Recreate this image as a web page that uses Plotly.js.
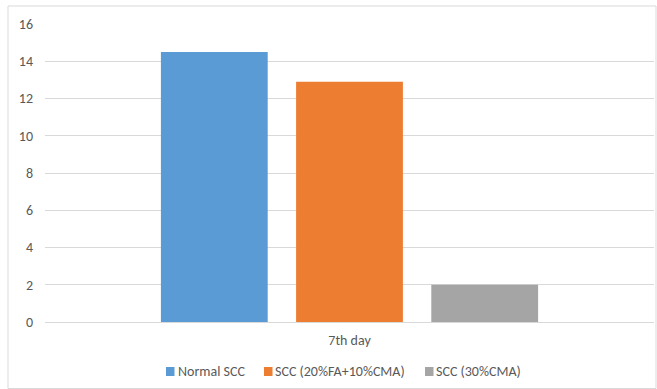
<!DOCTYPE html>
<html>
<head>
<meta charset="utf-8">
<script src="https://cdn.plot.ly/plotly-3.0.1.min.js"></script>
<style>
  html, body { margin: 0; padding: 0; background: #fff; }
  #chart { width: 657px; height: 389px; }
</style>
</head>
<body>
<div id="chart"></div>
<script>
// Flow/strength values on the 7th day for three SCC mixes
const categories = ["7th day"];
const seriesNames = ["Normal SCC", "SCC (20%FA+10%CMA)", "SCC (30%CMA)"];
const normalScc = [14.5];
const faCmaScc = [12.9];
const cmaScc = [2.0];
const yTicks = [0, 2, 4, 6, 8, 10, 12, 14, 16];

const colors = ["#5B9BD5", "#ED7D31", "#A5A5A5"];
const values = [normalScc, faCmaScc, cmaScc];

// Page / plot-area geometry (pixels)
const W = 657, H = 389;
const M = { l: 45, r: 3, t: 24, b: 67 };
const plotW = W - M.l - M.r, plotH = H - M.t - M.b;
const px2x = p => (p - M.l) / plotW;
const px2y = p => (H - M.b - p) / plotH;

const traces = values.map((v, i) => ({
  type: "bar",
  name: seriesNames[i],
  x: categories,
  y: v,
  marker: { color: colors[i], line: { width: 0 } },
  hoverinfo: "skip",
  showlegend: false
}));

const family = "Carlito, 'Open Sans', 'Liberation Sans', sans-serif";
const font = { family: family, size: 14, color: "#595959" };

// Compact Office-style legend: small square swatch followed by the series name
const legendSwatchX = [166, 264, 425];
const legendTextX = [178, 275, 436];
const legendTop = 367, legendBottom = 376, legendMid = 371.5;

const shapes = [{
  type: "rect",
  xref: "paper", yref: "paper",
  x0: px2x(8), x1: px2x(656),
  y0: px2y(388.5), y1: px2y(6),
  line: { color: "#D9D9D9", width: 1 },
  fillcolor: "rgba(0,0,0,0)",
  layer: "below"
}];
const annotations = [];
seriesNames.forEach((name, i) => {
  shapes.push({
    type: "rect",
    xref: "paper", yref: "paper",
    x0: px2x(legendSwatchX[i]), x1: px2x(legendSwatchX[i] + 8.5),
    y0: px2y(legendBottom), y1: px2y(legendTop),
    line: { width: 0 },
    fillcolor: colors[i]
  });
  annotations.push({
    xref: "paper", yref: "paper",
    x: px2x(legendTextX[i]), y: px2y(legendMid),
    xanchor: "left", yanchor: "middle",
    text: name,
    showarrow: false,
    borderpad: 0, borderwidth: 0,
    font: font
  });
});

const layout = {
  width: W,
  height: H,
  margin: { l: M.l, r: M.r, t: M.t, b: M.b, autoexpand: false },
  paper_bgcolor: "#ffffff",
  plot_bgcolor: "#ffffff",
  font: font,
  showlegend: false,
  barmode: "group",
  bargap: 0.334,
  bargroupgap: 0.21,
  xaxis: {
    type: "category",
    showgrid: false,
    showline: false,
    zeroline: false,
    ticks: "",
    tickfont: font,
    ticklabelstandoff: 8
  },
  yaxis: {
    range: [0, 16],
    tickvals: yTicks,
    ticktext: yTicks.map(String),
    showgrid: true,
    gridcolor: "#D9D9D9",
    gridwidth: 1,
    zeroline: true,
    zerolinecolor: "#D9D9D9",
    zerolinewidth: 1,
    showline: false,
    ticks: "",
    tickfont: font,
    ticklabelstandoff: 11
  },
  shapes: shapes,
  annotations: annotations
};

Plotly.newPlot("chart", traces, layout, { staticPlot: true, displayModeBar: false });
</script>
</body>
</html>
